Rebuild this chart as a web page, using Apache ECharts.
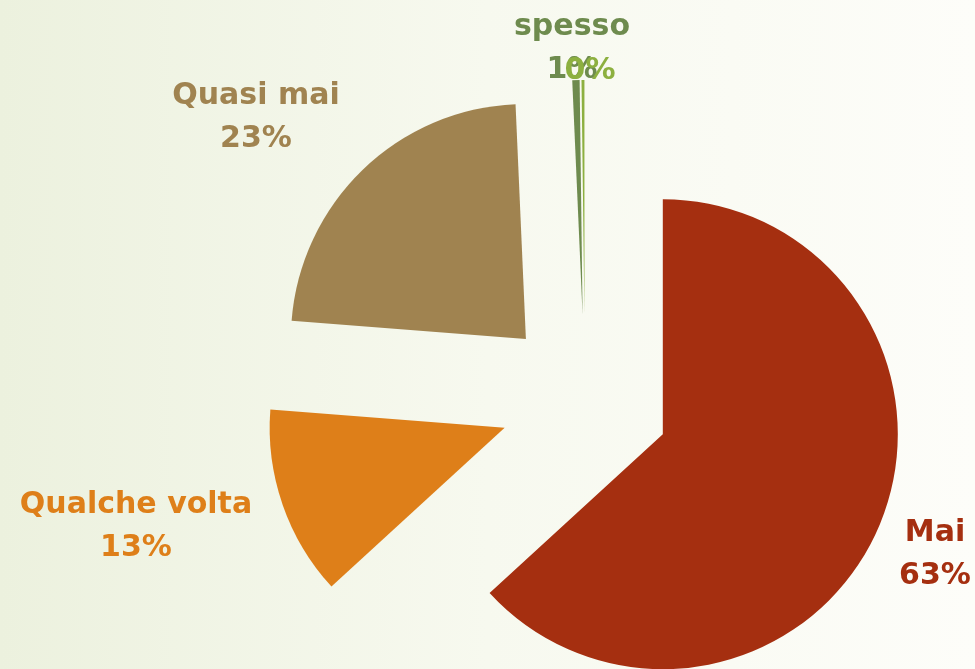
<!DOCTYPE html>
<html>
<head>
<meta charset="utf-8">
<script src="https://cdn.jsdelivr.net/npm/echarts@6/dist/echarts.min.js"></script>
<style>
  html, body { margin: 0; padding: 0; }
  #container { width: 975px; height: 669px; }
</style>
</head>
<body>
<div id="container"></div>
<script>
/* Data */
var categories = ['Mai', 'Qualche volta', 'Quasi mai', 'spesso', 'sempre'];
var values = [63, 13, 23, 0.5, 0.2];

/* Styling, kept apart from the data */
var colors = ['#A52F10', '#DE7F19', '#A08350', '#6E8B4E', '#8DB040'];
var labelPos = [[935, 555], [136, 527], [256, 118], [572, 49], [590, 71]];

var dom = document.getElementById('container');
var myChart = echarts.init(dom);

var total = values.reduce(function (a, b) { return a + b; }, 0);

var pieData = categories.map(function (name, i) {
    return {
        name: name,
        value: values[i],
        selected: true,
        itemStyle: { color: colors[i] }
    };
});

// labels placed the way they sit in the original slide
var labels = categories.map(function (name, i) {
    var pct = Math.round(values[i] / total * 100) + '%';
    return {
        type: 'text',
        z: 100,
        x: labelPos[i][0],
        y: labelPos[i][1],
        style: {
            // the last slice only shows its percent (it sits over the spesso one)
            text: i === 4 ? pct : name + '\n' + pct,
            fill: colors[i],
            font: 'bold 30px "DejaVu Sans"',
            lineHeight: 43,
            align: 'center',
            verticalAlign: 'middle'
        }
    };
});

var option = {
    backgroundColor: {
        type: 'linear', x: 0, y: 0, x2: 1, y2: 0,
        colorStops: [
            { offset: 0, color: '#ECF1DE' },
            { offset: 0.5, color: '#F7F9EF' },
            { offset: 1, color: '#FDFDF9' }
        ]
    },
    animation: false,
    graphic: labels,
    series: [
        {
            type: 'pie',
            center: [585, 400],
            radius: 235,
            startAngle: 90,
            clockwise: true,
            selectedMode: 'multiple',
            selectedOffset: 85,
            data: pieData,
            label: { show: false },
            labelLine: { show: false },
            emphasis: { disabled: true },
            itemStyle: { borderWidth: 0 }
        }
    ]
};

myChart.setOption(option);
</script>
</body>
</html>
